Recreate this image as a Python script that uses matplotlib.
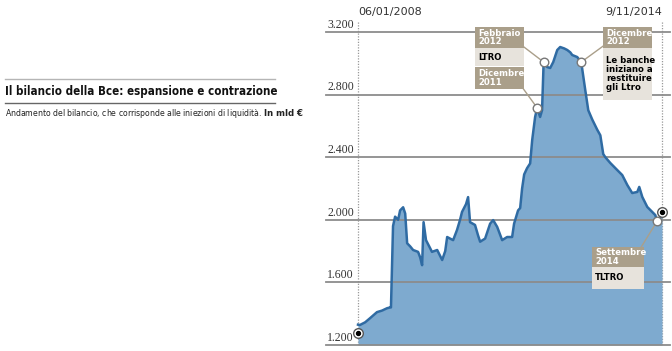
import matplotlib
matplotlib.use("Agg")
import matplotlib.pyplot as plt
import matplotlib.dates as mdates
from matplotlib.patches import Rectangle
import pandas as pd

# ECB balance sheet, billions of euro
dates = [
    "2008-01-06", "2008-01-22", "2008-03-05", "2008-04-15", "2008-06-10", "2008-07-22",
    "2008-09-01", "2008-09-26", "2008-10-03", "2008-10-20", "2008-11-06", "2008-12-01",
    "2008-12-17", "2009-01-11", "2009-01-28", "2009-02-13", "2009-03-10", "2009-04-03",
    "2009-05-14", "2009-05-31", "2009-06-16", "2009-06-28", "2009-07-18", "2009-08-20",
    "2009-09-05", "2009-10-18", "2009-11-28", "2009-12-23", "2010-01-08", "2010-02-01",
    "2010-02-26", "2010-03-30", "2010-04-24", "2010-05-10", "2010-06-12", "2010-06-29",
    "2010-07-15", "2010-08-25", "2010-09-19", "2010-10-06", "2010-11-16", "2010-12-27",
    "2011-01-21", "2011-02-23", "2011-04-05", "2011-05-16", "2011-06-26", "2011-07-12",
    "2011-08-14", "2011-08-31", "2011-09-16", "2011-10-03", "2011-10-27", "2011-11-21",
    "2011-12-08", "2012-01-01", "2012-01-18", "2012-02-11", "2012-02-27", "2012-03-11",
    "2012-04-09", "2012-05-04", "2012-05-29", "2012-07-01", "2012-07-25", "2012-08-27",
    "2012-09-21", "2012-10-16", "2012-11-01", "2012-12-12", "2013-01-14", "2013-02-16",
    "2013-03-13", "2013-04-15", "2013-05-26", "2013-06-20", "2013-07-14", "2013-07-31",
    "2013-09-10", "2013-11-06", "2013-12-17", "2014-01-28", "2014-03-09", "2014-04-20",
    "2014-05-06", "2014-05-31", "2014-07-11", "2014-08-21", "2014-09-15", "2014-10-01",
    "2014-10-26", "2014-11-09",
]
values = [
    1330, 1328, 1345, 1372, 1410, 1420,
    1435, 1440, 1440, 1960, 2020, 2000,
    2060, 2080, 2040, 1850, 1830, 1807,
    1795, 1760, 1710, 1985, 1870, 1820,
    1795, 1807, 1743, 1800, 1890, 1880,
    1870, 1935, 2000, 2050, 2100, 2145,
    1985, 1967, 1900, 1860, 1880, 1975,
    1998, 1955, 1870, 1890, 1890, 1975,
    2060, 2075, 2200, 2290, 2330, 2360,
    2510, 2657, 2715, 2657, 2700, 3008,
    2976, 2970, 3008, 3085, 3104, 3095,
    3085, 3070, 3053, 3040, 3008, 2830,
    2700, 2640, 2575, 2540, 2420, 2400,
    2363, 2318, 2286, 2222, 2171, 2178,
    2210, 2146, 2082, 2050, 2030, 1992,
    2018, 2035,
]

# highlighted events
event_dates = ["2012-01-18", "2012-03-11", "2013-01-14", "2014-10-01"]
event_values = [2715, 3008, 3008, 1992]
start_point = ("2008-01-06", 1277)
end_point = ("2014-11-09", 2050)

y_ticks = [1200, 1600, 2000, 2400, 2800, 3200]
y_labels = ["1.200", "1.600", "2.000", "2.400", "2.800", "3.200"]

FILL = "#7eaacf"
LINE = "#2f6ba3"
GRID = "#8c8c8c"
TAN = "#aa9f8a"
BEIGE = "#e7e3dc"
NARROW = dict(family="DejaVu Sans", stretch="condensed")

W, H = 672, 351
fig = plt.figure(figsize=(W / 100, H / 100), dpi=100)

# axes covers px x 326..670, y 0..345 (from top)
ax = fig.add_axes([326 / W, (H - 345) / H, 344 / W, 345 / H])
for s in ax.spines.values():
    s.set_visible(False)
ax.set_xticks([])
ax.set_yticks([])

x = pd.to_datetime(dates)
x0, x1 = pd.Timestamp(dates[0]), pd.Timestamp(dates[-1])
per_px = (x1 - x0) / 304
ax.set_xlim(mdates.date2num(x0 - per_px * 32), mdates.date2num(x1 + per_px * 8))
ax.set_ylim(1200, 1200 + 345 / 0.1565)

ax.fill_between(x, values, 1200, color=FILL, lw=0, zorder=1)

for v, lab in zip(y_ticks, y_labels):
    ax.axhline(v, color=GRID, lw=1.3, zorder=2, clip_on=False)
    ax.text(0.003, v + 8, lab, transform=ax.get_yaxis_transform(), ha="left",
            va="bottom", fontsize=8.5, family="Liberation Serif", color="#333333")

ax.plot(x, values, color=LINE, lw=1.8, zorder=3, solid_joinstyle="round")

top = 1200 + (345 - 22) / 0.1565
for d in (x0, x1):
    ax.plot([d, d], [1200, top], color="#999999", lw=0.9, ls=(0, (1, 1.2)), zorder=0)
ylab = 1200 + (345 - 12) / 0.1565
ax.text(x0, ylab, "06/01/2008", ha="left", va="center", fontsize=8, color="#333333")
ax.text(x1, ylab, "9/11/2014", ha="right", va="center", fontsize=8, color="#333333")


def fpx(px, py):
    return px, H - py


def box(x_a, y_a, x_b, y_b, color, lines, tcolor):
    fig.patches.append(Rectangle((x_a / W, (H - y_b) / H), (x_b - x_a) / W, (y_b - y_a) / H,
                                 transform=fig.transFigure, facecolor=color, edgecolor="none",
                                 zorder=5))
    fig.text((x_a + 3) / W, (H - (y_a + y_b) / 2) / H, lines, ha="left", va="center",
             color=tcolor, fontsize=6.8, fontweight="bold", linespacing=1.0, zorder=6, **NARROW)


def leader(px, py, when, val):
    ax.annotate("", xy=(pd.Timestamp(when), val), xytext=fpx(px, py), textcoords="figure pixels",
                arrowprops=dict(arrowstyle="-", color=TAN, lw=1, shrinkA=0, shrinkB=3), zorder=4)


# annotation boxes
box(475, 27, 524, 48, TAN, "Febbraio\n2012", "white")
box(475, 48, 524, 66, BEIGE, "LTRO", "black")
box(475, 67, 524, 89, TAN, "Dicembre\n2011", "white")
box(603, 27, 652, 48, TAN, "Dicembre\n2012", "white")
box(603, 48, 652, 100, BEIGE, "Le banche\niniziano a\nrestituire\ngli Ltro", "black")
box(592, 247, 644, 267, TAN, "Settembre\n2014", "white")
box(592, 267, 644, 289, BEIGE, "TLTRO", "black")

leader(520, 44, event_dates[1], event_values[1])
leader(522, 87, event_dates[0], event_values[0])
leader(606, 44, event_dates[2], event_values[2])
leader(640, 249, event_dates[3], event_values[3])

ax.scatter(pd.to_datetime(event_dates), event_values, s=38, facecolor="white",
           edgecolor="#777777", lw=1, zorder=7, clip_on=False)
for d, v in (start_point, end_point):
    ax.scatter([pd.Timestamp(d)], [v], s=48, facecolor="white", edgecolor="#555555",
               lw=1, zorder=7, clip_on=False)
    ax.scatter([pd.Timestamp(d)], [v], s=8, color="black", zorder=8, clip_on=False)

# title block on the left
fig.add_artist(plt.Line2D([5 / W, 275 / W], [(H - 79) / H] * 2, color="#b5b5b5", lw=1))
fig.add_artist(plt.Line2D([5 / W, 275 / W], [(H - 103) / H] * 2, color="#666666", lw=1))
fig.text(5 / W, (H - 91) / H, "Il bilancio della Bce: espansione e contrazione",
         ha="left", va="center", fontsize=8.3, fontweight="bold", color="#111111", **NARROW)
fig.text(5 / W, (H - 114) / H,
         "Andamento del bilancio, che corrisponde alle iniezioni di liquidità. $\\bf{In\\ mld\\ €}$",
         ha="left", va="center", fontsize=6.2, color="#222222", **NARROW)

fig.savefig("out.png", dpi=100)
